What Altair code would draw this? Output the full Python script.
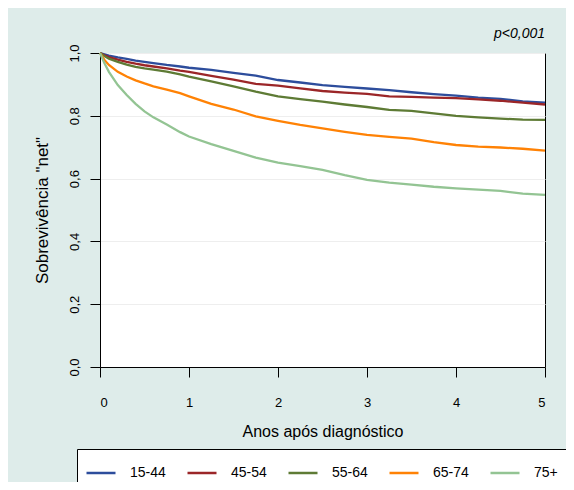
import altair as alt
import pandas as pd

# Time grid (years after diagnosis)
times = [0, 0.05, 0.1, 0.2, 0.3, 0.4, 0.5, 0.6, 0.75, 0.9, 1.0, 1.25, 1.5, 1.75,
         2.0, 2.25, 2.5, 2.75, 3.0, 3.25, 3.5, 3.75, 4.0, 4.25, 4.5, 4.75, 5.0]

groups = ["15-44", "45-54", "55-64", "65-74", "75+"]
colors = ["#2D4D9C", "#9B2628", "#5E7B35", "#FF8205", "#93C493"]

s_15_44 = [1.0, 0.996, 0.992, 0.986, 0.981, 0.976, 0.972, 0.968, 0.962, 0.957, 0.953, 0.946, 0.937, 0.928,
           0.914, 0.906, 0.898, 0.892, 0.887, 0.882, 0.875, 0.869, 0.864, 0.858, 0.854, 0.846, 0.842]
s_45_54 = [1.0, 0.993, 0.987, 0.979, 0.972, 0.966, 0.961, 0.957, 0.951, 0.944, 0.940, 0.927, 0.915, 0.902,
           0.896, 0.887, 0.879, 0.874, 0.870, 0.862, 0.860, 0.858, 0.856, 0.852, 0.848, 0.842, 0.836]
s_55_64 = [1.0, 0.990, 0.982, 0.972, 0.963, 0.956, 0.951, 0.947, 0.941, 0.932, 0.925, 0.910, 0.894, 0.877,
           0.862, 0.853, 0.845, 0.836, 0.828, 0.819, 0.816, 0.808, 0.800, 0.795, 0.791, 0.788, 0.787]
s_65_74 = [1.0, 0.978, 0.962, 0.940, 0.925, 0.913, 0.903, 0.894, 0.883, 0.872, 0.862, 0.838, 0.820, 0.798,
           0.784, 0.771, 0.760, 0.749, 0.739, 0.733, 0.727, 0.716, 0.707, 0.702, 0.699, 0.695, 0.689]
s_75p = [1.0, 0.967, 0.940, 0.898, 0.866, 0.838, 0.814, 0.795, 0.772, 0.748, 0.734, 0.710, 0.688, 0.667,
         0.651, 0.640, 0.628, 0.611, 0.596, 0.587, 0.581, 0.574, 0.569, 0.565, 0.561, 0.552, 0.548]

x_ticks = [0, 1, 2, 3, 4, 5]
y_ticks = [0.0, 0.2, 0.4, 0.6, 0.8, 1.0]

series = [s_15_44, s_45_54, s_55_64, s_65_74, s_75p]
rows = []
for g, vals in zip(groups, series):
    for t, v in zip(times, vals):
        rows.append({"t": t, "s": v, "grupo": g})
df = pd.DataFrame(rows)

FONT = "Liberation Sans"

chart = alt.Chart(df).mark_line(interpolate="linear", strokeWidth=2.3).encode(
    x=alt.X("t:Q", scale=alt.Scale(domain=[0, 5], nice=False),
            axis=alt.Axis(values=x_ticks, title="Anos após diagnóstico", grid=False,
                          tickSize=10, tickColor="black", domainColor="black",
                          labelFontSize=13, labelColor="black", labelPadding=19,
                          titleFontSize=16, titleFontWeight="normal", titleColor="black",
                          titlePadding=14, labelFont=FONT, titleFont=FONT)),
    y=alt.Y("s:Q", scale=alt.Scale(domain=[0, 1], nice=False),
            axis=alt.Axis(values=y_ticks, title='Sobrevivência "net"', grid=True,
                          gridColor="#EEEEEE", tickSize=10, tickColor="black",
                          domainColor="black",
                          labelExpr="replace(format(datum.value, '.1f'), '.', ',')",
                          labelAngle=270, labelAlign="center", labelBaseline="alphabetic",
                          labelFontSize=13, labelColor="black", labelPadding=12,
                          titleFontSize=17, titleFontWeight="normal", titleColor="black",
                          titlePadding=17, labelFont=FONT, titleFont=FONT)),
    color=alt.Color("grupo:N", scale=alt.Scale(domain=groups, range=colors),
                    legend=alt.Legend(title=None, orient="none", legendX=-23, legendY=396,
                                      direction="horizontal", columns=5, gridAlign="all",
                                      columnPadding=16, symbolType="stroke", symbolSize=841,
                                      symbolStrokeWidth=2.5, labelOffset=13,
                                      labelFontSize=14, labelColor="black", labelFont=FONT,
                                      fillColor="white", strokeColor="black", padding=8)),
).properties(
    width=445,
    height=314,
    title=alt.TitleParams("p<0,001", anchor="end", frame="group", fontStyle="italic",
                          fontSize=14, fontWeight="normal", color="black", offset=3, font=FONT),
    background="#DEECEA",
    autosize=alt.AutoSizeParams(type="none"),
    padding={"left": 92, "top": 45, "right": 21, "bottom": 115},
).configure_view(
    stroke="black", strokeWidth=1, fill="white"
)

chart.save("out.html", embed_options={"renderer": "svg", "actions": False})
